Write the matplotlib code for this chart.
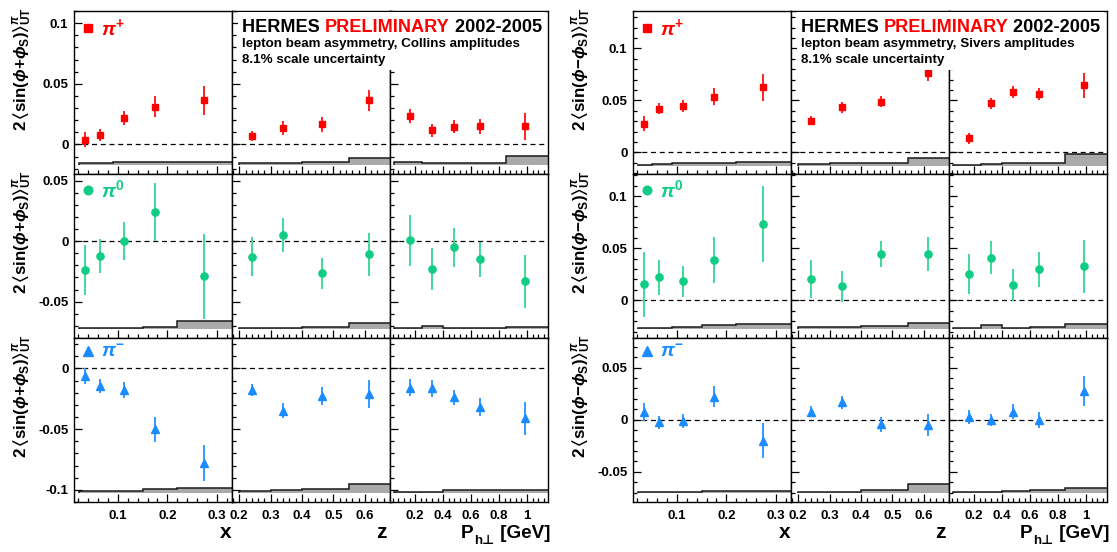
import matplotlib.pyplot as plt
from matplotlib.lines import Line2D
from matplotlib.text import Annotation
from matplotlib.ticker import MultipleLocator, FuncFormatter

plt.rcParams['font.family'] = ['Liberation Sans', 'DejaVu Sans']
plt.rcParams['font.weight'] = 'bold'
plt.rcParams['mathtext.fontset'] = 'custom'
plt.rcParams['mathtext.rm'] = 'Liberation Sans:bold'
plt.rcParams['mathtext.bf'] = 'Liberation Sans:bold'
plt.rcParams['mathtext.it'] = 'Liberation Sans:italic'
plt.rcParams['mathtext.sf'] = 'Liberation Sans:bold'
plt.rcParams['mathtext.fallback'] = 'stixsans'

# kinematic bins (mean values and bin edges for the systematic bands)
x_mean = [0.035, 0.065, 0.112, 0.176, 0.273]
z_mean = [0.242, 0.34, 0.462, 0.613]
pt_mean = [0.165, 0.32, 0.475, 0.665, 0.985]
x_bins = [0.023, 0.05, 0.09, 0.15, 0.22, 0.4]
z_bins = [0.2, 0.3, 0.4, 0.55, 0.7]
pt_bins = [0.05, 0.25, 0.4, 0.6, 0.85, 2.0]

# Collins amplitudes
col_pip_x = [0.004, 0.0075, 0.0215, 0.031, 0.0365]
col_pip_x_err = [0.006, 0.005, 0.0058, 0.0085, 0.012]
col_pip_x_sys = [0.0015, 0.0012, 0.0018, 0.0025, 0.0018]
col_pip_z = [0.0071, 0.0135, 0.0165, 0.0364]
col_pip_z_err = [0.004, 0.0054, 0.006, 0.0087]
col_pip_z_sys = [0.0012, 0.0012, 0.0018, 0.0055]
col_pip_pt = [0.0231, 0.0116, 0.0146, 0.0151, 0.0149]
col_pip_pt_err = [0.0058, 0.0055, 0.0055, 0.0062, 0.011]
col_pip_pt_sys = [0.002, 0.0012, 0.0014, 0.0014, 0.0068]

col_pi0_x = [-0.024, -0.0121, 0.0, 0.0242, -0.0292]
col_pi0_x_err = [0.0207, 0.0142, 0.0158, 0.0238, 0.0349]
col_pi0_x_sys = [0.0011, 0.0011, 0.0008, 0.0014, 0.0066]
col_pi0_z = [-0.0129, 0.005, -0.0267, -0.011]
col_pi0_z_err = [0.016, 0.014, 0.013, 0.018]
col_pi0_z_sys = [0.0008, 0.0008, 0.0015, 0.0047]
col_pi0_pt = [0.0008, -0.0229, -0.0052, -0.0149, -0.0333]
col_pi0_pt_err = [0.021, 0.0176, 0.0158, 0.0145, 0.0216]
col_pi0_pt_sys = [0.001, 0.0025, 0.0008, 0.001, 0.0018]

col_pim_x = [-0.0063, -0.0146, -0.0179, -0.05, -0.0778]
col_pim_x_err = [0.0062, 0.0059, 0.0069, 0.0103, 0.0151]
col_pim_x_sys = [0.0018, 0.0018, 0.0018, 0.0033, 0.0044]
col_pim_z = [-0.0179, -0.0349, -0.0228, -0.0212]
col_pim_z_err = [0.0048, 0.0062, 0.0073, 0.0113]
col_pim_z_sys = [0.0018, 0.0025, 0.0035, 0.0075]
col_pim_pt = [-0.016, -0.0165, -0.0239, -0.0321, -0.0412]
col_pim_pt_err = [0.0069, 0.0069, 0.0065, 0.0073, 0.0133]
col_pim_pt_sys = [0.0015, 0.0015, 0.0028, 0.0028, 0.0028]

# Sivers amplitudes
siv_pip_x = [0.0276, 0.042, 0.0446, 0.0535, 0.0625]
siv_pip_x_err = [0.0075, 0.0053, 0.0056, 0.008, 0.0128]
siv_pip_x_sys = [0.0008, 0.0016, 0.0022, 0.0022, 0.0032]
siv_pip_z = [0.0305, 0.0433, 0.0487, 0.0766]
siv_pip_z_err = [0.0043, 0.005, 0.0054, 0.008]
siv_pip_z_sys = [0.0016, 0.0022, 0.0022, 0.007]
siv_pip_pt = [0.0135, 0.0471, 0.0583, 0.0558, 0.0647]
siv_pip_pt_err = [0.0051, 0.0054, 0.0056, 0.0059, 0.012]
siv_pip_pt_sys = [0.0005, 0.0016, 0.0029, 0.0029, 0.0112]

siv_pi0_x = [0.0153, 0.022, 0.0182, 0.0387, 0.0732]
siv_pi0_x_err = [0.0308, 0.0165, 0.0147, 0.0217, 0.0363]
siv_pi0_x_sys = [0.0006, 0.0006, 0.0022, 0.0035, 0.0048]
siv_pi0_z = [0.0204, 0.0137, 0.0441, 0.0444]
siv_pi0_z_err = [0.0184, 0.0149, 0.0126, 0.016]
siv_pi0_z_sys = [0.0016, 0.0022, 0.0029, 0.0054]
siv_pi0_pt = [0.0252, 0.0409, 0.0147, 0.0297, 0.0326]
siv_pi0_pt_err = [0.019, 0.0157, 0.0155, 0.0165, 0.0252]
siv_pi0_pt_sys = [0.0013, 0.0038, 0.0006, 0.0022, 0.0045]

siv_pim_x = [0.0077, -0.0026, -0.0013, 0.022, -0.0201]
siv_pim_x_err = [0.0085, 0.0064, 0.0065, 0.0101, 0.0168]
siv_pim_x_sys = [0.0006, 0.0006, 0.0006, 0.0016, 0.0016]
siv_pim_z = [0.0077, 0.0166, -0.0045, -0.0051]
siv_pim_z_err = [0.0054, 0.0059, 0.007, 0.0107]
siv_pim_z_sys = [0.001, 0.001, 0.0032, 0.0086]
siv_pim_pt = [0.0029, -0.0003, 0.0077, -0.0003, 0.0275]
siv_pim_pt_err = [0.0066, 0.0059, 0.0073, 0.008, 0.0144]
siv_pim_pt_sys = [0.0006, 0.0006, 0.0016, 0.0032, 0.0048]

# offset of the systematic band in each row
col_band_base = [-0.0167, -0.0727, -0.103]
siv_band_base = [-0.0129, -0.0275, -0.0703]

W, H = 1117, 552
fig = plt.figure(figsize=(W / 100, H / 100), dpi=100)


def panel(x0, y0, w, h):
    return fig.add_axes([x0 / W, 1 - (y0 + h) / H, w / W, h / H])


def num(v, pos):
    if abs(v) < 1e-9:
        return '0'
    return f'{v:g}'


pions = [
    ('s', '#ff0000', '#ff2020', 4.8, r'$\pi^{+}$'),
    ('o', '#10cc85', '#3fd99a', 5.2, r'$\pi^{0}$'),
    ('^', '#1a8cff', '#3399ff', 6.0, r'$\pi^{-}$'),
]
means = [x_mean, z_mean, pt_mean]
bins = [x_bins, z_bins, pt_bins]
xlims = [(0.012, 0.33), (0.177, 0.68), (0.02, 1.15)]
xmajor = [0.1, 0.1, 0.2]
xminor = [0.02, 0.02, 0.04]

grids = [
    dict(left=74, base=col_band_base,
         ylabel=r'$2\,\langle\mathrm{sin}(\phi{+}\phi_{\mathrm{S}})\rangle^{\pi}_{\mathrm{UT}}$',
         name='Collins',
         ylims=[(-0.024, 0.110), (-0.080, 0.0558), (-0.110, 0.025)],
         vals=[[col_pip_x, col_pip_z, col_pip_pt],
               [col_pi0_x, col_pi0_z, col_pi0_pt],
               [col_pim_x, col_pim_z, col_pim_pt]],
         errs=[[col_pip_x_err, col_pip_z_err, col_pip_pt_err],
               [col_pi0_x_err, col_pi0_z_err, col_pi0_pt_err],
               [col_pim_x_err, col_pim_z_err, col_pim_pt_err]],
         syss=[[col_pip_x_sys, col_pip_z_sys, col_pip_pt_sys],
               [col_pi0_x_sys, col_pi0_z_sys, col_pi0_pt_sys],
               [col_pim_x_sys, col_pim_z_sys, col_pim_pt_sys]]),
    dict(left=633, base=siv_band_base,
         ylabel=r'$2\,\langle\mathrm{sin}(\phi{-}\phi_{\mathrm{S}})\rangle^{\pi}_{\mathrm{UT}}$',
         name='Sivers',
         ylims=[(-0.0204, 0.136), (-0.0361, 0.1216), (-0.0789, 0.0783)],
         vals=[[siv_pip_x, siv_pip_z, siv_pip_pt],
               [siv_pi0_x, siv_pi0_z, siv_pi0_pt],
               [siv_pim_x, siv_pim_z, siv_pim_pt]],
         errs=[[siv_pip_x_err, siv_pip_z_err, siv_pip_pt_err],
               [siv_pi0_x_err, siv_pi0_z_err, siv_pi0_pt_err],
               [siv_pim_x_err, siv_pim_z_err, siv_pim_pt_err]],
         syss=[[siv_pip_x_sys, siv_pip_z_sys, siv_pip_pt_sys],
               [siv_pi0_x_sys, siv_pi0_z_sys, siv_pi0_pt_sys],
               [siv_pim_x_sys, siv_pim_z_sys, siv_pim_pt_sys]]),
]

row_top = [11, 173.5, 338]
row_h = [162.5, 164.5, 164]
col_w = 158

for g in grids:
    for r in range(3):
        marker, color, ecolor, ms, label = pions[r]
        for c in range(3):
            ax = panel(g['left'] + c * col_w, row_top[r], col_w, row_h[r])
            ax.set_xlim(*xlims[c])
            ax.set_ylim(*g['ylims'][r])
            base = g['base'][r]
            top = [base + s for s in g['syss'][r][c]]
            ax.stairs(top, bins[c], baseline=base, fill=True,
                      facecolor='#aaaaaa', edgecolor='none', zorder=1)
            ax.stairs(top, bins[c], baseline=base, fill=False,
                      color='#1a1a1a', lw=1.1, zorder=1.5)
            ax.axhline(0, color='k', ls=(0, (4, 3)), lw=0.9, zorder=2)
            ax.errorbar(means[c], g['vals'][r][c], yerr=g['errs'][r][c],
                        fmt=marker, color=color, ecolor=ecolor, ms=ms,
                        elinewidth=1.4, capsize=0, zorder=3)
            ax.yaxis.set_major_locator(MultipleLocator(0.05))
            ax.yaxis.set_minor_locator(MultipleLocator(0.01))
            ax.xaxis.set_major_locator(MultipleLocator(xmajor[c]))
            ax.xaxis.set_minor_locator(MultipleLocator(xminor[c]))
            ax.yaxis.set_major_formatter(FuncFormatter(num))
            ax.xaxis.set_major_formatter(FuncFormatter(num))
            ax.tick_params(which='both', direction='in', top=False, right=False,
                           labelleft=(c == 0), labelbottom=(r == 2),
                           labelsize=9.5, width=0.9)
            ax.tick_params(axis='y', which='major', length=6, pad=4)
            ax.tick_params(axis='y', which='minor', length=3)
            ax.tick_params(axis='x', which='major', length=5.5, pad=6)
            ax.tick_params(axis='x', which='minor', length=2.8)
            for sp in ax.spines.values():
                sp.set_linewidth(1.0)
            if c == 0:
                h = Line2D([], [], marker=marker, ls='none', color=color, ms=ms + 1)
                ax.legend([h], [label], loc='upper left', frameon=False,
                          fontsize=14, handlelength=0.8, handletextpad=0.3,
                          borderaxespad=0.1, borderpad=0.2, labelcolor=color)
        fig.text((g['left'] - 51) / W, 1 - (row_top[r] - 4) / H, g['ylabel'],
                 rotation=90, ha='center', va='top', fontsize=12.2)

    # axis titles under the bottom row
    left = g['left']
    fig.text((left + col_w - 1) / W, 1 - 532 / H, 'x', ha='right', va='center', fontsize=15)
    fig.text((left + 2 * col_w - 3) / W, 1 - 532 / H, 'z', ha='right', va='center', fontsize=15)
    tp = fig.text((left + 3 * col_w - 87) / W, 1 - 538 / H, 'P',
                  ha='left', va='baseline', fontsize=13.6)
    ts = fig.add_artist(Annotation('h⊥', xy=(1, 0), xycoords=tp,
                                   xytext=(0.5, -3.5), textcoords='offset points',
                                   ha='left', va='bottom', fontsize=9.5))
    fig.add_artist(Annotation(' [GeV]', xy=(1, 0), xycoords=(ts, tp),
                              ha='left', va='bottom', fontsize=13.6))

    # white title box over the top row
    ov = panel(left + col_w + 6, 12, 2 * col_w - 9, 58)
    ov.set_facecolor('white')
    ov.set_xticks([])
    ov.set_yticks([])
    for sp in ov.spines.values():
        sp.set_visible(False)
    ov.set_zorder(10)
    tx = (left + col_w + 10) / W
    t1 = ov.text(tx, 1 - 31.7 / H, 'HERMES ', transform=fig.transFigure,
                 fontsize=13.1, va='baseline', ha='left')
    t2 = ov.annotate('PRELIMINARY', xy=(1, 0), xycoords=t1, va='bottom',
                     ha='left', fontsize=13.1, color='red', annotation_clip=False)
    ov.annotate(' 2002-2005', xy=(1, 0), xycoords=t2, va='bottom', ha='left',
                fontsize=13.1, annotation_clip=False)
    ov.text(tx, 1 - 46.7 / H, f"lepton beam asymmetry, {g['name']} amplitudes",
            transform=fig.transFigure, fontsize=9.6, va='baseline', ha='left')
    ov.text(tx, 1 - 63.3 / H, '8.1% scale uncertainty',
            transform=fig.transFigure, fontsize=9.6, va='baseline', ha='left')

fig.savefig('out.png', dpi=100)
